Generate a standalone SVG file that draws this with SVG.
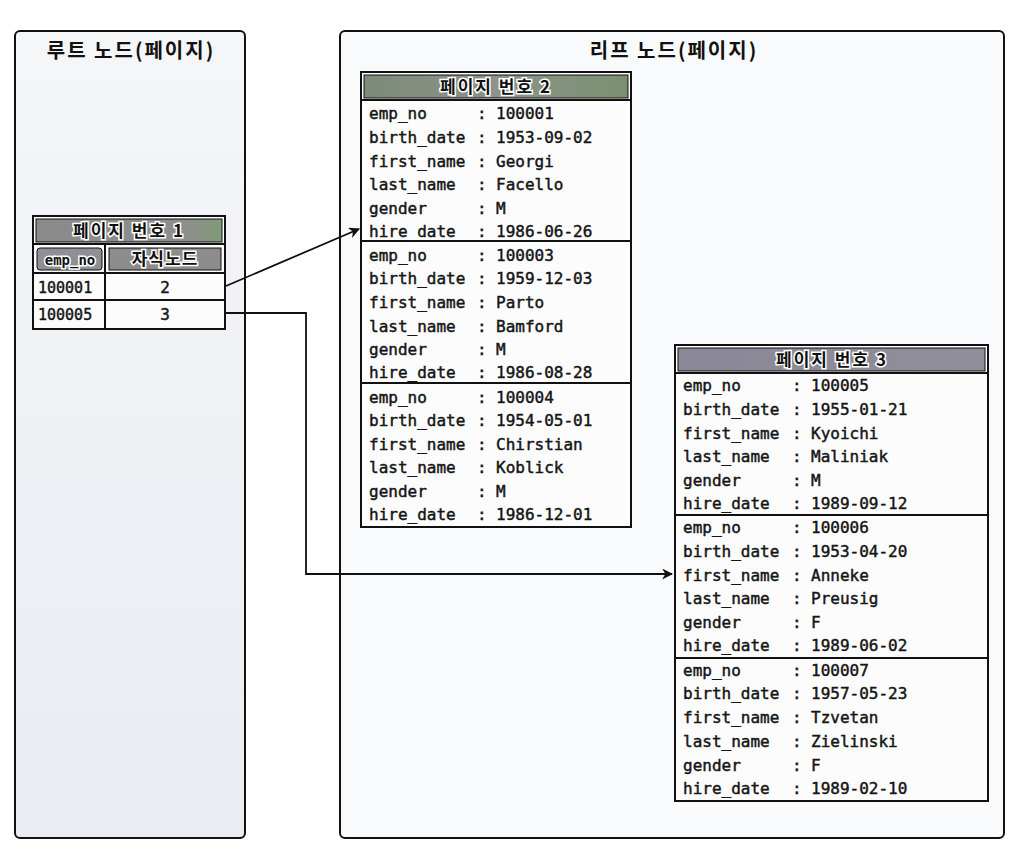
<svg xmlns="http://www.w3.org/2000/svg" width="1024" height="858" viewBox="0 0 1024 858">
<defs>
<linearGradient id="rootbg" x1="0" y1="0" x2="0" y2="1">
<stop offset="0" stop-color="#f5f6f8"/><stop offset="0.5" stop-color="#eef0f4"/><stop offset="1" stop-color="#e9ecf1"/>
</linearGradient>
<linearGradient id="h1" x1="0" y1="0" x2="1" y2="0">
<stop offset="0" stop-color="#8a8a8a"/><stop offset="0.8" stop-color="#8e8e8e"/><stop offset="1" stop-color="#7f9a74"/>
</linearGradient>
<linearGradient id="h2" x1="0" y1="0" x2="1" y2="0">
<stop offset="0" stop-color="#7d8a78"/><stop offset="0.5" stop-color="#8b938a"/><stop offset="1" stop-color="#7a9070"/>
</linearGradient>
<linearGradient id="h3" x1="0" y1="0" x2="1" y2="0">
<stop offset="0" stop-color="#8a8896"/><stop offset="1" stop-color="#8f8e9a"/>
</linearGradient>
<marker id="arr" viewBox="0 0 10 10" refX="9" refY="5" markerWidth="11" markerHeight="11" markerUnits="userSpaceOnUse" orient="auto">
<path d="M0,0 L10,5 L0,10 L3,5 z" fill="#111"/>
</marker>
<style>
.frame{fill:url(#rootbg);stroke:#111;stroke-width:2}
.leaf{fill:#f9fafb;stroke:#111;stroke-width:2}
.title{font-family:"Noto Sans CJK KR",sans-serif;font-size:20px;font-weight:bold;fill:#111;text-anchor:middle;letter-spacing:2px}
.tbl{fill:#fcfcfd;stroke:#111;stroke-width:2}
.hdr{font-family:"Noto Sans CJK KR","DejaVu Sans Mono",sans-serif;font-size:17px;font-weight:bold;fill:#111;text-anchor:middle;stroke:#fff;stroke-width:3;paint-order:stroke;letter-spacing:2px}
.t{font-family:"DejaVu Sans Mono",monospace;font-size:16px;fill:#151515;stroke:#151515;stroke-width:0.45}
.c{font-family:"DejaVu Sans Mono",monospace;font-size:16px;fill:#151515;stroke:#151515;stroke-width:0.45;text-anchor:middle}
.sep{stroke:#111;stroke-width:2}
.conn{fill:none;stroke:#111;stroke-width:1.8}
</style>
</defs>

<g id="root-node">
<rect class="frame" x="15" y="31" width="230" height="807" rx="5"/>
<text class="title" x="131" y="58">루트 노드(페이지)</text>
</g>

<g id="leaf-node">
<rect class="leaf" x="340" y="31" width="664" height="807" rx="5"/>
<text class="title" x="674" y="58">리프 노드(페이지)</text>
</g>

<g id="page1">
<rect class="tbl" x="33" y="216" width="192" height="113"/>
<rect x="36" y="219" width="186" height="23" fill="url(#h1)" stroke="#111" stroke-width="1"/>
<text class="hdr" x="129" y="237">페이지 번호 1</text>
<line class="sep" x1="33" y1="244" x2="225" y2="244"/>
<line class="sep" x1="105" y1="244" x2="105" y2="329"/>
<rect x="37" y="248" width="65" height="22" rx="3" fill="#8f9096" stroke="#111" stroke-width="1"/>
<rect x="109" y="248" width="112" height="22" fill="#8c8c8c" stroke="#111" stroke-width="1"/>
<text class="hdr" x="70" y="265" style="font-family:'DejaVu Sans Mono',monospace;font-size:14px;letter-spacing:0">emp_no</text>
<text class="hdr" x="165" y="265" style="letter-spacing:1px">자식노드</text>
<line class="sep" x1="33" y1="273" x2="225" y2="273"/>
<line class="sep" x1="33" y1="300" x2="225" y2="300"/>
<text class="t" x="38" y="293" style="font-size:15px">100001</text>
<text class="c" x="165" y="293">2</text>
<text class="t" x="38" y="320" style="font-size:15px">100005</text>
<text class="c" x="165" y="320">3</text>
</g>

<g id="page2">
<rect class="tbl" x="361" y="72" width="270" height="455"/>
<rect x="364" y="75" width="264" height="23" fill="url(#h2)" stroke="#111" stroke-width="1"/>
<text class="hdr" x="496" y="93">페이지 번호 2</text>
<line class="sep" x1="361" y1="100" x2="631" y2="100"/>
<line class="sep" x1="361" y1="241" x2="631" y2="241"/>
<line class="sep" x1="361" y1="383" x2="631" y2="383"/>
<g class="t">
<text x="369" y="119">emp_no</text><text x="477" y="119">:</text><text x="496" y="119">100001</text>
<text x="369" y="143">birth_date</text><text x="477" y="143">:</text><text x="496" y="143">1953-09-02</text>
<text x="369" y="167">first_name</text><text x="477" y="167">:</text><text x="496" y="167">Georgi</text>
<text x="369" y="190">last_name</text><text x="477" y="190">:</text><text x="496" y="190">Facello</text>
<text x="369" y="214">gender</text><text x="477" y="214">:</text><text x="496" y="214">M</text>
<text x="369" y="237">hire_date</text><text x="477" y="237">:</text><text x="496" y="237">1986-06-26</text>
<text x="369" y="261">emp_no</text><text x="477" y="261">:</text><text x="496" y="261">100003</text>
<text x="369" y="284">birth_date</text><text x="477" y="284">:</text><text x="496" y="284">1959-12-03</text>
<text x="369" y="308">first_name</text><text x="477" y="308">:</text><text x="496" y="308">Parto</text>
<text x="369" y="332">last_name</text><text x="477" y="332">:</text><text x="496" y="332">Bamford</text>
<text x="369" y="355">gender</text><text x="477" y="355">:</text><text x="496" y="355">M</text>
<text x="369" y="378">hire_date</text><text x="477" y="378">:</text><text x="496" y="378">1986-08-28</text>
<text x="369" y="403">emp_no</text><text x="477" y="403">:</text><text x="496" y="403">100004</text>
<text x="369" y="426">birth_date</text><text x="477" y="426">:</text><text x="496" y="426">1954-05-01</text>
<text x="369" y="450">first_name</text><text x="477" y="450">:</text><text x="496" y="450">Chirstian</text>
<text x="369" y="473">last_name</text><text x="477" y="473">:</text><text x="496" y="473">Koblick</text>
<text x="369" y="497">gender</text><text x="477" y="497">:</text><text x="496" y="497">M</text>
<text x="369" y="520">hire_date</text><text x="477" y="520">:</text><text x="496" y="520">1986-12-01</text>
</g>
</g>

<g id="page3">
<rect class="tbl" x="675" y="345" width="313" height="456"/>
<rect x="678" y="348" width="307" height="23" fill="url(#h3)" stroke="#111" stroke-width="1"/>
<text class="hdr" x="832" y="366">페이지 번호 3</text>
<line class="sep" x1="675" y1="373" x2="988" y2="373"/>
<line class="sep" x1="675" y1="515" x2="988" y2="515"/>
<line class="sep" x1="675" y1="658" x2="988" y2="658"/>
<g class="t">
<text x="683" y="391">emp_no</text><text x="792" y="391">:</text><text x="811" y="391">100005</text>
<text x="683" y="415">birth_date</text><text x="792" y="415">:</text><text x="811" y="415">1955-01-21</text>
<text x="683" y="439">first_name</text><text x="792" y="439">:</text><text x="811" y="439">Kyoichi</text>
<text x="683" y="462">last_name</text><text x="792" y="462">:</text><text x="811" y="462">Maliniak</text>
<text x="683" y="486">gender</text><text x="792" y="486">:</text><text x="811" y="486">M</text>
<text x="683" y="509">hire_date</text><text x="792" y="509">:</text><text x="811" y="509">1989-09-12</text>
<text x="683" y="533">emp_no</text><text x="792" y="533">:</text><text x="811" y="533">100006</text>
<text x="683" y="557">birth_date</text><text x="792" y="557">:</text><text x="811" y="557">1953-04-20</text>
<text x="683" y="581">first_name</text><text x="792" y="581">:</text><text x="811" y="581">Anneke</text>
<text x="683" y="604">last_name</text><text x="792" y="604">:</text><text x="811" y="604">Preusig</text>
<text x="683" y="628">gender</text><text x="792" y="628">:</text><text x="811" y="628">F</text>
<text x="683" y="651">hire_date</text><text x="792" y="651">:</text><text x="811" y="651">1989-06-02</text>
<text x="683" y="676">emp_no</text><text x="792" y="676">:</text><text x="811" y="676">100007</text>
<text x="683" y="699">birth_date</text><text x="792" y="699">:</text><text x="811" y="699">1957-05-23</text>
<text x="683" y="723">first_name</text><text x="792" y="723">:</text><text x="811" y="723">Tzvetan</text>
<text x="683" y="747">last_name</text><text x="792" y="747">:</text><text x="811" y="747">Zielinski</text>
<text x="683" y="771">gender</text><text x="792" y="771">:</text><text x="811" y="771">F</text>
<text x="683" y="794">hire_date</text><text x="792" y="794">:</text><text x="811" y="794">1989-02-10</text>
</g>
</g>

<g id="connectors">
<path class="conn" d="M226,286 L359,229" marker-end="url(#arr)"/>
<path class="conn" d="M226,313 L306,313 L306,574 L672,574" marker-end="url(#arr)"/>
</g>
</svg>
